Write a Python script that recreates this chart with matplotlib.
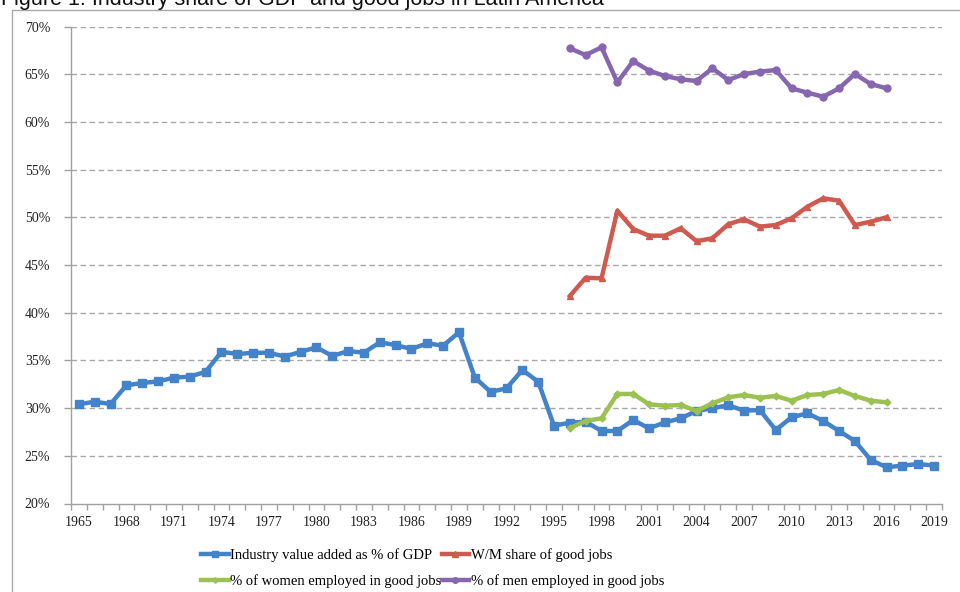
import matplotlib
matplotlib.use("Agg")
import matplotlib.pyplot as plt
from matplotlib.patches import Rectangle
import numpy as np

years = list(range(1965, 2020))

industry = [30.4, 30.67, 30.43, 32.39, 32.63, 32.8, 33.19, 33.3, 33.8, 35.9,
            35.67, 35.8, 35.8, 35.4, 35.9, 36.37, 35.46, 35.98, 35.81, 36.9,
            36.6, 36.2, 36.79, 36.54, 37.95, 33.2, 31.7, 32.07, 34.0, 32.77,
            28.16, 28.47, 28.57, 27.6, 27.6, 28.75, 27.88, 28.5, 28.93, 29.7,
            29.98, 30.3, 29.73, 29.8, 27.7, 29.04, 29.45, 28.65, 27.6, 26.55,
            24.56, 23.8, 23.97, 24.14, 23.97]

years_jobs = list(range(1996, 2017))
wm_share = [41.75, 43.67, 43.6, 50.69, 48.77, 48.07, 48.07, 48.85, 47.5, 47.8,
            49.27, 49.79, 49.02, 49.19, 49.9, 51.11, 51.99, 51.74, 49.19, 49.54, 50.0]
women = [27.9, 28.65, 28.93, 31.48, 31.48, 30.4, 30.25, 30.33, 29.7, 30.5,
         31.13, 31.37, 31.09, 31.27, 30.78, 31.37, 31.48, 31.9, 31.27, 30.78, 30.6]
men = [67.71, 67.01, 67.82, 64.15, 66.38, 65.37, 64.81, 64.47, 64.29, 65.62,
       64.39, 65.02, 65.26, 65.44, 63.52, 63.06, 62.64, 63.52, 65.02, 63.97, 63.52]

labels = ["Industry value added as % of GDP", "W/M share of good jobs",
          "% of women employed in good jobs", "% of men employed in good jobs"]
title = "Figure 1: Industry share of GDP and good jobs in Latin America"
yticks = [20, 25, 30, 35, 40, 45, 50, 55, 60, 65, 70]

W, H = 960, 592
fig = plt.figure(figsize=(W / 100, H / 100), dpi=100)
fig.patch.set_facecolor("white")

serif = ["Liberation Serif", "DejaVu Serif"]

# border box (extends past right/bottom)
fig.patches.append(Rectangle((12 / W, -0.1), 2.0, (H - 10) / H + 0.1,
                             transform=fig.transFigure, fill=False,
                             edgecolor="#a8a8a8", linewidth=1.0))

fig.text(1 / W, 1 - 5 / H, title, fontsize=15.5, family=["Liberation Sans", "DejaVu Sans"],
         va="baseline", ha="left", color="#111111")

ax = fig.add_axes([71 / W, 1 - 503.5 / H, (942 - 71) / W, (503.5 - 26.5) / H])
idx = {y: i for i, y in enumerate(years)}
x_ind = [idx[y] for y in years]
x_jobs = [idx[y] for y in years_jobs]

c_blue = "#4483c9"
c_red = "#cf5a4f"
c_green = "#9bc152"
c_purple = "#8766b0"

ax.plot(x_ind, industry, color=c_blue, lw=3.2, marker="s", ms=5.5, zorder=3, label=labels[0])
ax.plot(x_jobs, wm_share, color=c_red, lw=3.2, marker="^", ms=5, zorder=3, label=labels[1])
ax.plot(x_jobs, women, color=c_green, lw=3.2, marker="D", ms=3.5, zorder=3, label=labels[2])
ax.plot(x_jobs, men, color=c_purple, lw=3.2, marker="o", ms=5, zorder=3, label=labels[3])

ax.set_xlim(-0.5, len(years) - 0.5)
ax.set_ylim(20, 70)
ax.set_yticks(yticks)
ax.set_yticklabels([f"{v}%" for v in yticks], family=serif, fontsize=10, color="#222222")
for v in yticks[1:]:
    ax.axhline(v, color="#a8a8a8", lw=1.0, ls=(0, (4, 2.5)), zorder=1)

maj = [i for i, y in enumerate(years) if (y - 1965) % 3 == 0]
ax.set_xticks(maj)
ax.set_xticklabels([str(years[i]) for i in maj], family=serif, fontsize=10, color="#222222")
ax.set_xticks(np.arange(-0.5, len(years), 1.0), minor=True)
ax.tick_params(axis="x", which="major", length=0, pad=9)
ax.tick_params(axis="x", which="minor", length=4, color="#a0a0a0", width=1)
ax.tick_params(axis="y", length=5, color="#a0a0a0", width=1, pad=10)

for s in ["top", "right"]:
    ax.spines[s].set_visible(False)
for s in ["left", "bottom"]:
    ax.spines[s].set_color("#a0a0a0")
    ax.spines[s].set_linewidth(1.0)

handles, labs = ax.get_legend_handles_labels()
order = [0, 2, 1, 3]
leg = fig.legend([handles[i] for i in order], [labs[i] for i in order],
                 ncol=2, loc="upper left", bbox_to_anchor=(191 / W, 1 - 538 / H),
                 frameon=False, prop={"family": serif, "size": 10.5},
                 handlelength=1.9, handletextpad=0.1, columnspacing=0.0,
                 labelspacing=0.85, borderpad=0.2, markerscale=0.8)

fig.savefig("out.png", dpi=100, facecolor="white")
